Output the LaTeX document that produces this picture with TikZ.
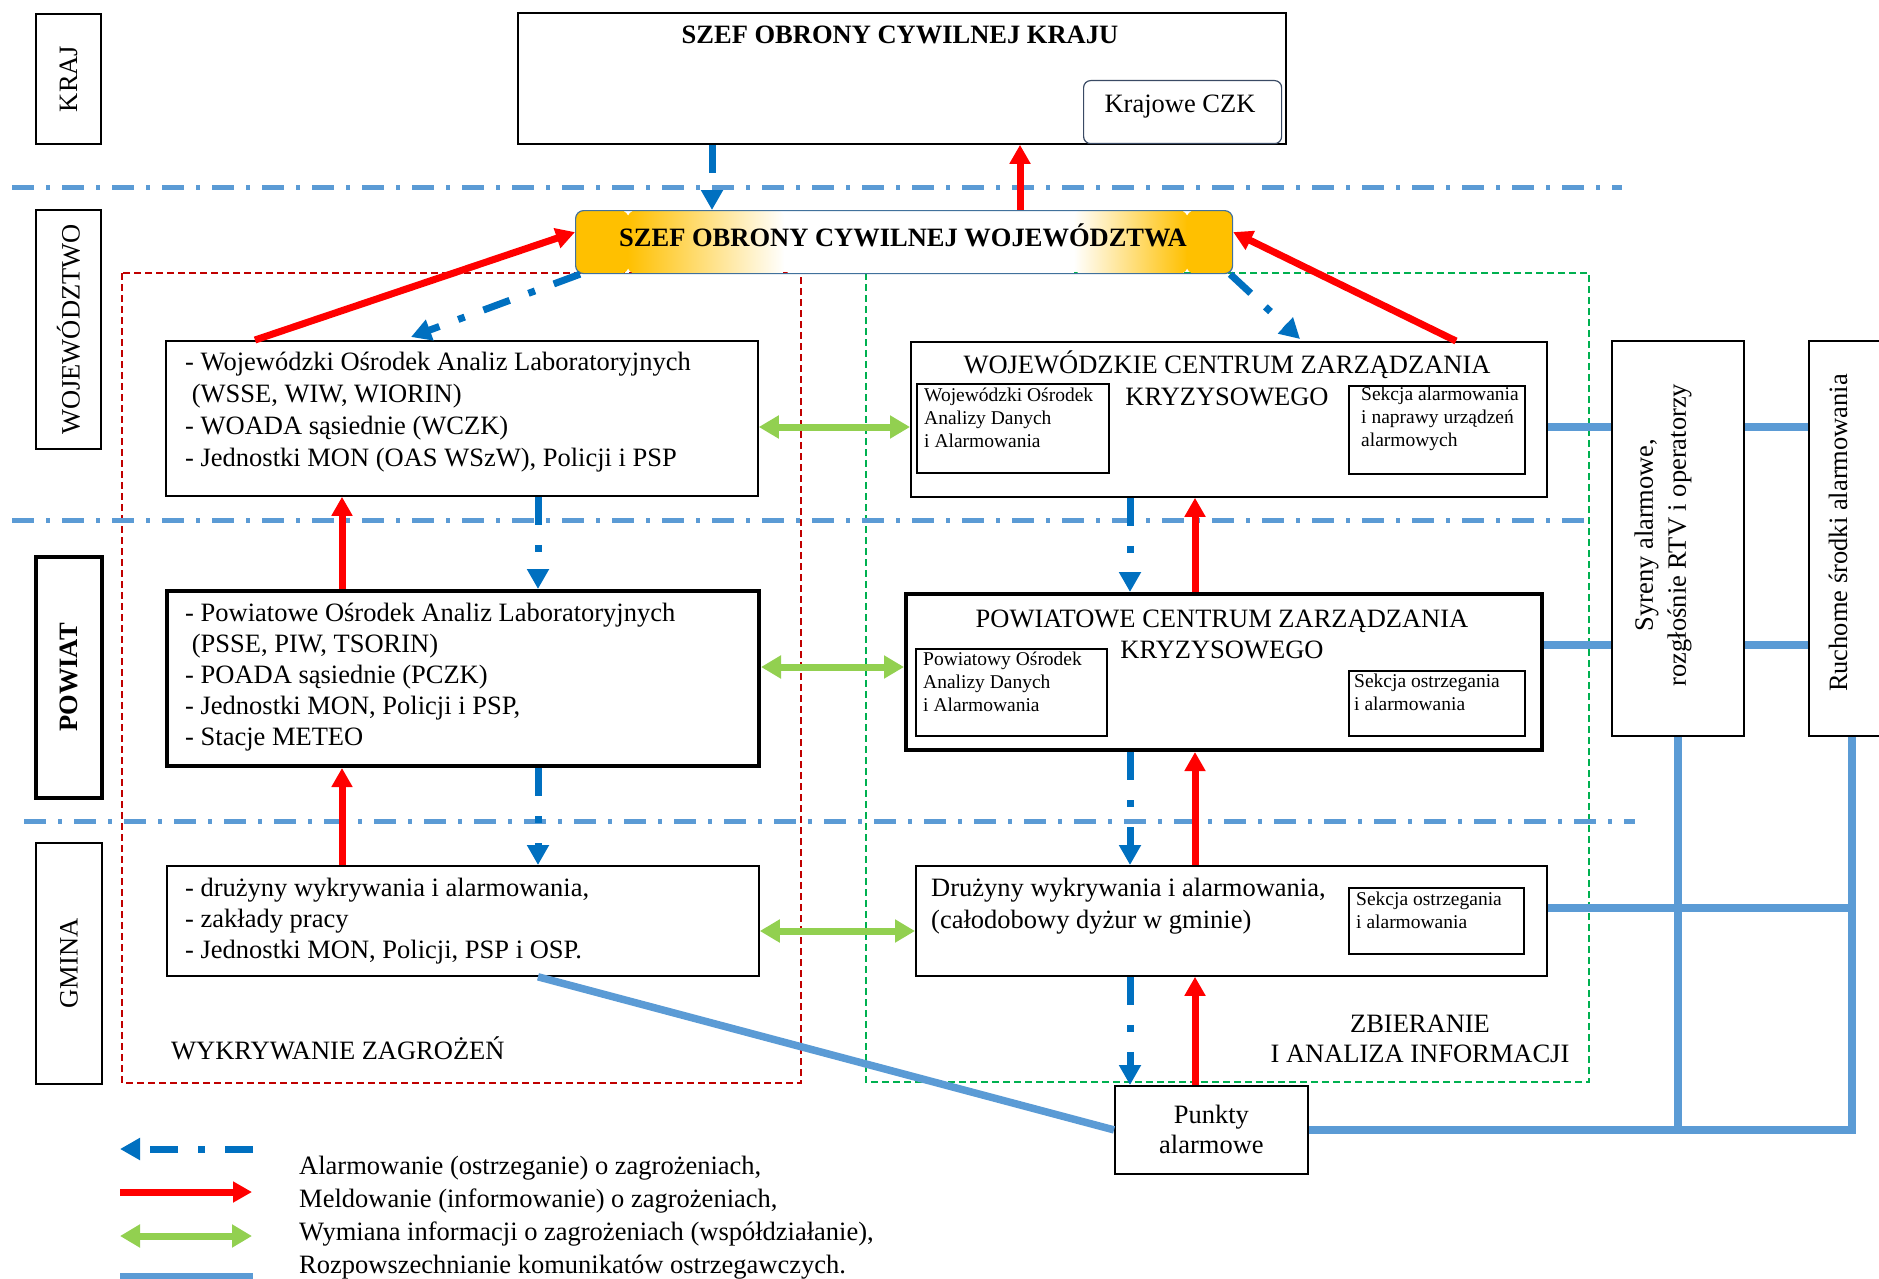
\documentclass[tikz,border=0pt]{standalone}
\usepackage{fontspec}
\setmainfont{Liberation Serif}
\usetikzlibrary{arrows.meta}
\definecolor{alarmblue}{HTML}{0070C0}
\definecolor{meldred}{HTML}{FF0000}
\definecolor{wymgreen}{HTML}{92D050}
\definecolor{rozpblue}{HTML}{5B9BD5}
\definecolor{zagrred}{HTML}{C00000}
\definecolor{zbiergreen}{HTML}{00B050}
\definecolor{szefgold}{HTML}{FFC000}
\definecolor{szefedge}{HTML}{41719C}
\definecolor{czkedge}{HTML}{3A4A64}
\begin{document}
\begin{tikzpicture}[x=1pt,y=-1pt,
  every node/.style={inner sep=0pt,font=\fontsize{26.5}{31.5}\selectfont},
  box/.style={draw,line width=1.8pt,fill=white,anchor=north west},
  thickbox/.style={box,line width=4pt},
  inbox/.style={draw,line width=1.6pt,anchor=north west},
  lvbox/.style={draw,line width=1.8pt,fill=white,rotate=90},
  small/.style={anchor=west,align=left,font=\fontsize{19.5}{23}\selectfont},
  alarm/.style={alarmblue,line width=7pt,dash pattern=on 28pt off 20pt on 7pt off 20pt,-{Triangle[length=20pt,width=21pt]}},
  meld/.style={meldred,line width=7pt,-{Triangle[length=19pt,width=20pt]}},
  wym/.style={wymgreen,line width=7pt,{Triangle[length=20pt,width=22pt]}-{Triangle[length=20pt,width=22pt]}},
  rozp/.style={rozpblue,line width=7.5pt},
  level/.style={rozpblue,line width=5pt,dash pattern=on 22pt off 12pt on 4pt off 12pt},
  group/.style={line width=2.4pt,dash pattern=on 7pt off 4pt}]
% 1 unit = 1 px of the 1879 x 1279 reference
\useasboundingbox (0,0) rectangle (1879,1279);
\clip (0,0) rectangle (1879,1279);
\coordinate (colRedL) at (342,0);
\coordinate (colBlueL) at (538,0);
\coordinate (colBlueR) at (1130,0);
\coordinate (colRedR) at (1195,0);
\coordinate (colKrajB) at (712,0);
\coordinate (colKrajR) at (1020,0);
\coordinate (colRuch) at (1852,0);
\coordinate (rowW) at (0,427);
\coordinate (rowP) at (0,667);
\coordinate (rowS) at (0,645);
\coordinate (rowG) at (0,931);
\coordinate (rowGR) at (0,908);
\draw[group,zagrred] (122,273) rectangle (801,1083);
\draw[group,zbiergreen] (866,273) rectangle (1589,1082);
\draw[level] (12,187) -- (1622,187);
\draw[level] (12,520) -- (1589,520);
\draw[level] (24,821) -- (1635,821);
\node[lvbox,minimum width=130pt,minimum height=65pt] (lvKraj) at (68.5,79) {KRAJ};
\node[lvbox,minimum width=239pt,minimum height=65pt] (lvWoj) at (68.5,329.5) {WOJEWÓDZTWO};
\node[lvbox,line width=4pt,minimum width=241pt,minimum height=66pt,font=\fontsize{26.5}{31.5}\selectfont\bfseries] (lvPow) at (69,677.5) {POWIAT};
\node[lvbox,minimum width=241pt,minimum height=66pt] (lvGm) at (69,963.5) {GMINA};
\node[box,minimum width=768pt,minimum height=131pt] (szefKraj) at (517,12) {};
\node[font=\fontsize{26.5}{31.5}\selectfont\bfseries] (szefKrajT) at (900,35) {SZEF OBRONY CYWILNEJ KRAJU};
\node[box,rounded corners=7pt,line width=1.2pt,draw=czkedge,minimum width=198pt,minimum height=63pt] (krajCzk) at (1083,80) {};
\node (krajCzkT) at (1180,107) {Krajowe CZK};
\node[anchor=north west,draw=szefedge,line width=1.2pt,rounded corners=8pt,minimum width=657pt,minimum height=63pt,
  path picture={
    \fill[szefgold] (path picture bounding box.north west) rectangle ([xshift=53pt]path picture bounding box.south west);
    \shade[left color=szefgold,right color=white] ([xshift=52pt]path picture bounding box.north west) rectangle ([xshift=209pt]path picture bounding box.south west);
    \fill[white] ([xshift=208pt]path picture bounding box.north west) rectangle ([xshift=499pt]path picture bounding box.south west);
    \shade[left color=white,right color=szefgold] ([xshift=498pt]path picture bounding box.north west) rectangle ([xshift=612pt]path picture bounding box.south west);
    \fill[szefgold] ([xshift=611pt]path picture bounding box.north west) rectangle (path picture bounding box.south east);
  }] (szefWoj) at (575,210) {};
\node[font=\fontsize{26.5}{31.5}\selectfont\bfseries] (szefWojT) at (903,235) {SZEF OBRONY CYWILNEJ WOJEWÓDZTWA};
% wykrywanie
\node[box,minimum width=592pt,minimum height=155pt] (wojL) at (165,340) {};
\node[anchor=west,align=left,font=\fontsize{26.5}{32}\selectfont] (wojLT) at (185,412) {- Wojewódzki Ośrodek Analiz Laboratoryjnych\\\hspace*{.25em}(WSSE, WIW, WIORIN)\\- WOADA sąsiednie (WCZK)\\- Jednostki MON (OAS WSzW), Policji i PSP};
\node[thickbox,minimum width=592pt,minimum height=175pt] (powL) at (165,589) {};
\node[anchor=west,align=left,font=\fontsize{26.5}{31}\selectfont] (powLT) at (185,677) {- Powiatowe Ośrodek Analiz Laboratoryjnych\\\hspace*{.25em}(PSSE, PIW, TSORIN)\\- POADA sąsiednie (PCZK)\\- Jednostki MON, Policji i PSP,\\- Stacje METEO};
\node[box,minimum width=592pt,minimum height=110pt] (gmL) at (166,865) {};
\node[anchor=west,align=left,font=\fontsize{26.5}{31}\selectfont] (gmLT) at (185,921) {- drużyny wykrywania i alarmowania,\\- zakłady pracy\\- Jednostki MON, Policji, PSP i OSP.};
\node[anchor=west] (wykrT) at (171,1048) {WYKRYWANIE ZAGROŻEŃ};
% zbieranie
\node[box,minimum width=636pt,minimum height=155pt] (wczk) at (910,341) {};
\node[align=center,font=\fontsize{26.5}{32}\selectfont] (wczkT) at (1227,378) {WOJEWÓDZKIE CENTRUM ZARZĄDZANIA\\KRYZYSOWEGO};
\node[inbox,minimum width=192pt,minimum height=89pt] (wInL) at (916,383) {};
\node[small] (wInLT) at (924,418) {Wojewódzki Ośrodek\\Analizy Danych\\i Alarmowania};
\node[inbox,minimum width=176pt,minimum height=88pt] (wInR) at (1348,385) {};
\node[small] (wInRT) at (1361,419) {Sekcja alarmowania\\i naprawy urządzeń\\alarmowych};
\node[thickbox,minimum width=636pt,minimum height=156pt] (pczk) at (904,592) {};
\node[align=center,font=\fontsize{26.5}{31}\selectfont] (pczkT) at (1222,634) {POWIATOWE CENTRUM ZARZĄDZANIA\\KRYZYSOWEGO};
\node[inbox,minimum width=191pt,minimum height=87pt] (pInL) at (915,648) {};
\node[small] (pInLT) at (923,682) {Powiatowy Ośrodek\\Analizy Danych\\i Alarmowania};
\node[inbox,minimum width=176pt,minimum height=65pt] (pInR) at (1348,670) {};
\node[small] (pInRT) at (1354,692) {Sekcja ostrzegania\\i alarmowania};
\node[box,minimum width=631pt,minimum height=110pt] (gmR) at (915,865) {};
\node[anchor=west,align=left,font=\fontsize{26.5}{32}\selectfont] (gmRT) at (931,906) {Drużyny wykrywania i alarmowania,\\(całodobowy dyżur w gminie)};
\node[inbox,minimum width=175pt,minimum height=66pt] (gInR) at (1348,887) {};
\node[small] (gInRT) at (1356,910) {Sekcja ostrzegania\\i alarmowania};
\node[align=center,font=\fontsize{26.5}{30}\selectfont] (zbierT) at (1420,1039) {ZBIERANIE\\I ANALIZA INFORMACJI};
\node[box,minimum width=193pt,minimum height=88pt,align=center,font=\fontsize{26.5}{30}\selectfont] (punkty) at (1114,1085) {Punkty\\alarmowe};
\node[box,minimum width=132pt,minimum height=395pt] (syreny) at (1611,340) {};
\node[rotate=90,align=center,font=\fontsize{26.5}{33}\selectfont] (syrenyT) at (1663,535) {Syreny alarmowe,\\rozgłośnie RTV i operatorzy};
\node[box,minimum width=90pt,minimum height=395pt] (ruchome) at (1808,340) {};
\node[rotate=90] (ruchomeT) at (1838,533) {Ruchome środki alarmowania};
% alarmowanie i meldowanie
\draw[alarm] (szefKraj.south -| colKrajB) -- (szefWoj.north -| colKrajB);
\draw[meld] (szefWoj.north -| colKrajR) -- (szefKraj.south -| colKrajR);
\draw[meld] ([xshift=90pt]wojL.north west) -- ([yshift=10pt]szefWoj.west);
\draw[alarm] ([xshift=5pt]szefWoj.south west) -- ([xshift=246pt,yshift=3pt]wojL.north west);
\draw[alarm] ([xshift=-3pt]szefWoj.south east) -- ([xshift=390pt,yshift=2pt]wczk.north west);
\draw[meld] ([xshift=546pt]wczk.north west) -- ([yshift=10pt]szefWoj.east);
\draw[meld] (powL.north -| colRedL) -- (wojL.south -| colRedL);
\draw[alarm] (wojL.south -| colBlueL) -- (powL.north -| colBlueL);
\draw[meld] (gmL.north -| colRedL) -- (powL.south -| colRedL);
\draw[alarm] (powL.south -| colBlueL) -- (gmL.north -| colBlueL);
\draw[alarm] (wczk.south -| colBlueR) -- (pczk.north -| colBlueR);
\draw[meld] (pczk.north -| colRedR) -- (wczk.south -| colRedR);
\draw[alarm] (pczk.south -| colBlueR) -- (gmR.north -| colBlueR);
\draw[meld] (gmR.north -| colRedR) -- (pczk.south -| colRedR);
\draw[alarm] (gmR.south -| colBlueR) -- (punkty.north -| colBlueR);
\draw[meld] (punkty.north -| colRedR) -- (gmR.south -| colRedR);
% wymiana
\draw[wym] (wojL.east |- rowW) -- (wczk.west |- rowW);
\draw[wym] (powL.east |- rowP) -- (pczk.west |- rowP);
\draw[wym] (gmL.east |- rowG) -- (gmR.west |- rowG);
% rozpowszechnianie
\draw[rozp] (wczk.east |- rowW) -- (syreny.west |- rowW);
\draw[rozp] (syreny.east |- rowW) -- (ruchome.west |- rowW);
\draw[rozp] (pczk.east |- rowS) -- (syreny.west |- rowS);
\draw[rozp] (syreny.east |- rowS) -- (ruchome.west |- rowS);
\draw[rozp] (gmR.east |- rowGR) -- (colRuch |- rowGR);
\draw[rozp] (colRuch |- ruchome.south) -- (colRuch |- punkty.east) -- (punkty.east);
\draw[rozp] (syreny.south) -- (syreny.south |- punkty.east);
\draw[rozp] (punkty.west) -- (gmL.south -| colBlueL);
% legenda
\draw[alarm] (253,1149) -- (120,1149);
\draw[meld] (120,1192) -- (252,1192);
\draw[wym] (120,1236) -- (252,1236);
\draw[rozp] (120,1277) -- (253,1277);
\node[anchor=west,align=left,font=\fontsize{26.5}{33}\selectfont] (legT) at (299,1218) {Alarmowanie (ostrzeganie) o zagrożeniach,\\Meldowanie (informowanie) o zagrożeniach,\\Wymiana informacji o zagrożeniach (współdziałanie),\\Rozpowszechnianie komunikatów ostrzegawczych.};
\end{tikzpicture}
\end{document}
